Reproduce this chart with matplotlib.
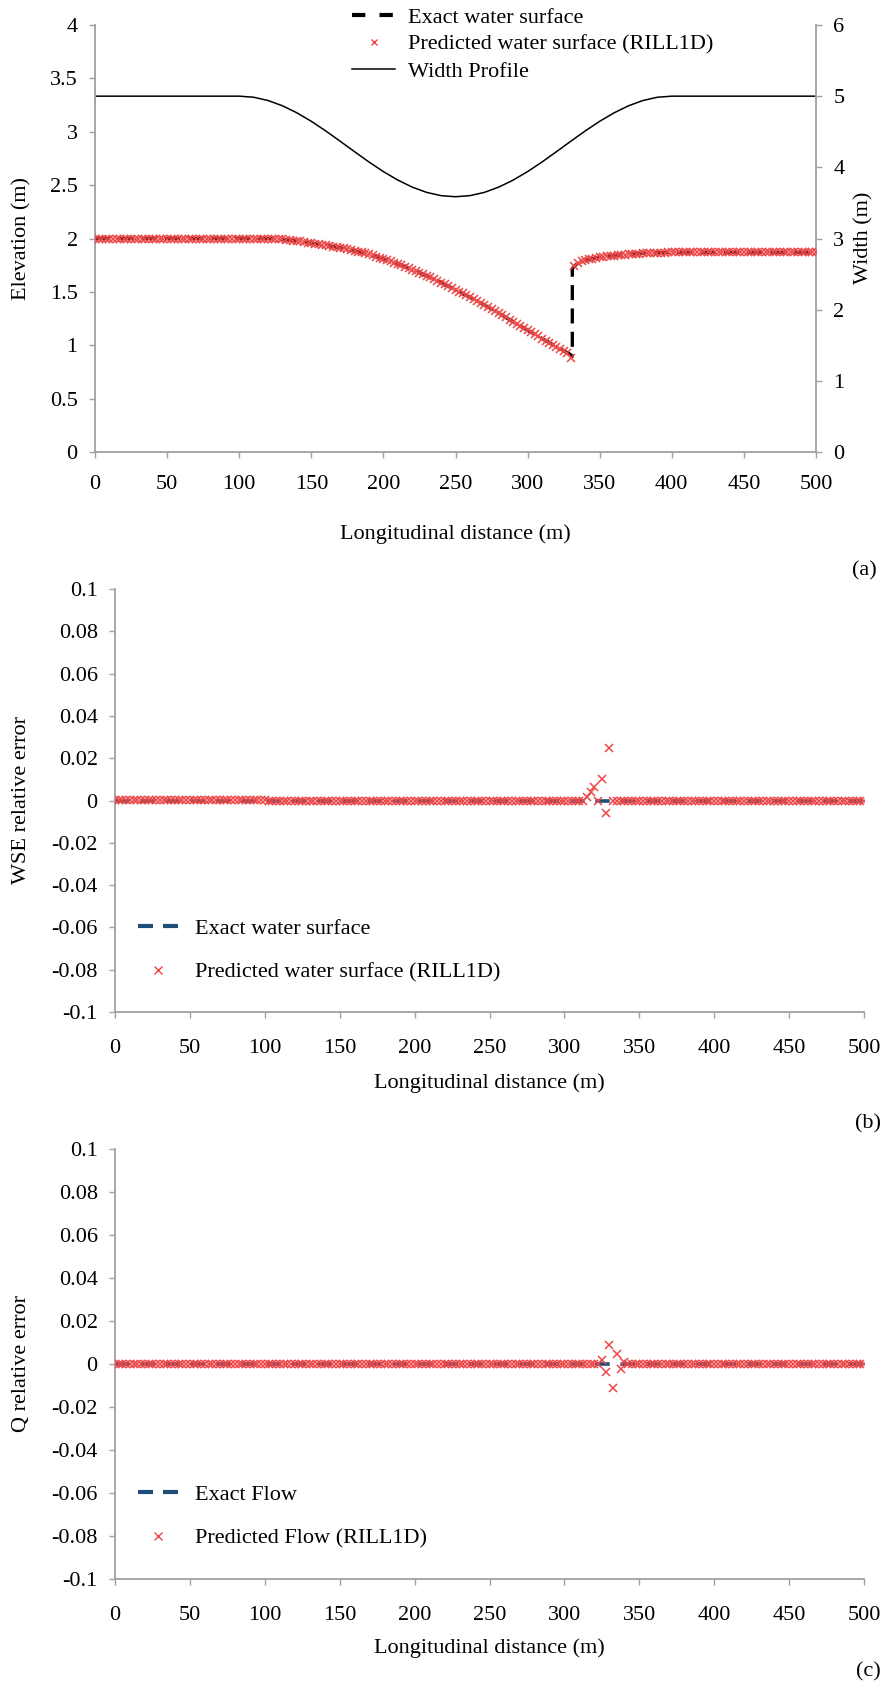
import matplotlib
matplotlib.use("Agg")
import matplotlib.pyplot as plt
from matplotlib.lines import Line2D

plt.rcParams['font.family'] = ['Liberation Serif', 'DejaVu Serif']

# ---------------- data ----------------
x_ticks = [0, 50, 100, 150, 200, 250, 300, 350, 400, 450, 500]
x_tick_labels = [str(v) for v in x_ticks]

# width profile (m) every 10 m
width_x = list(range(0, 510, 10))
width_vals = ([5.0] * 11 +
              [4.985, 4.939, 4.865, 4.766, 4.647, 4.512, 4.367, 4.220, 4.075, 3.940,
               3.821, 3.722, 3.648, 3.602, 3.587, 3.602, 3.648, 3.722, 3.821, 3.940,
               4.075, 4.220, 4.367, 4.512, 4.647, 4.766, 4.865, 4.939, 4.985] +
              [5.0] * 11)

# exact water surface (m)
exact_x = list(range(0, 335, 5)) + [331, 331] + list(range(335, 505, 5))
exact_wse = ([2.0] * 24 +
             [2.000, 1.997, 1.992, 1.985, 1.977, 1.967, 1.957, 1.947, 1.937, 1.925,
              1.913, 1.900, 1.885, 1.869, 1.851, 1.831, 1.810, 1.787, 1.762, 1.736,
              1.709, 1.680, 1.650, 1.619, 1.587, 1.554, 1.520, 1.485, 1.449, 1.413,
              1.377, 1.340, 1.300, 1.260, 1.220, 1.180, 1.140, 1.101, 1.063, 1.025,
              0.987, 0.950, 0.910] +
             [0.895, 1.720] +
             [1.775, 1.797, 1.812, 1.823, 1.832, 1.840, 1.847, 1.853, 1.857, 1.861,
              1.864, 1.866, 1.868] +
             [1.870] * 21)

# predicted (RILL1D) water surface, every 2.5 m
pred_x = [i * 2.5 for i in range(201)]
pred_wse = ([2.0] * 48 +
            [2.000, 1.999, 1.997, 1.995, 1.992, 1.989, 1.985, 1.981, 1.977, 1.972,
             1.967, 1.962, 1.957, 1.952, 1.947, 1.942, 1.937, 1.931, 1.925, 1.919,
             1.913, 1.907, 1.900, 1.893, 1.885, 1.877, 1.869, 1.860, 1.851, 1.841,
             1.831, 1.821, 1.810, 1.799, 1.787, 1.775, 1.762, 1.749, 1.736, 1.723,
             1.709, 1.695, 1.680, 1.665, 1.650, 1.635, 1.619, 1.603, 1.587, 1.571,
             1.554, 1.537, 1.520, 1.503, 1.485, 1.467, 1.449, 1.431, 1.413, 1.395,
             1.377, 1.359, 1.340, 1.320, 1.300, 1.280, 1.260, 1.240, 1.220, 1.200,
             1.180, 1.160, 1.140, 1.120, 1.101, 1.082, 1.063, 1.044, 1.025, 1.006,
             0.987, 0.968, 0.950, 0.930, 0.880] +
            [1.745, 1.775, 1.787, 1.797, 1.805, 1.812, 1.818, 1.823, 1.828, 1.832,
             1.836, 1.840, 1.844, 1.847, 1.850, 1.853, 1.855, 1.857, 1.859, 1.861,
             1.863, 1.864, 1.865, 1.866, 1.867, 1.868, 1.869] +
            [1.870] * 41)

# relative errors
exact_err_x = [0, 500]
exact_err = [0.0, 0.0]
wse_err = ([0.0004] * 41 + [-0.0002] * 85 +
           [0.0015, 0.004, 0.0065, 0.0, 0.010, -0.006, 0.025] +
           [-0.0002] * 68)
q_err = ([0.0] * 130 +
         [0.002, -0.0038, 0.0088, -0.0113, 0.0047, -0.0023, 0.0008] +
         [0.0] * 64)

elev_ticks = [0, 0.5, 1, 1.5, 2, 2.5, 3, 3.5, 4]
elev_labels = ['0', '0.5', '1', '1.5', '2', '2.5', '3', '3.5', '4']
width_ticks = [0, 1, 2, 3, 4, 5, 6]
err_ticks = [-0.1, -0.08, -0.06, -0.04, -0.02, 0, 0.02, 0.04, 0.06, 0.08, 0.1]
err_labels = ['-0.1', '-0.08', '-0.06', '-0.04', '-0.02', '0', '0.02', '0.04', '0.06', '0.08', '0.1']

# ---------------- style ----------------
W, H = 883, 1684
RED = '#EC4646'
NAVY = '#1F4E79'
GRAY = '#A0A0A0'
FS = 16

fig = plt.figure(figsize=(W / 100, H / 100), dpi=100)


def rect(l, r, t, b):
    return [l / W, 1 - b / H, (r - l) / W, (b - t) / H]


def style(ax, right=False, xpad=12):
    ax.spines['top'].set_visible(False)
    ax.spines['right'].set_visible(right)
    for s in ['left', 'bottom', 'right']:
        ax.spines[s].set_color(GRAY)
        ax.spines[s].set_linewidth(1.3)
    ax.tick_params(axis='both', direction='out', length=4.5, width=1.0,
                   color=GRAY, labelcolor='black', labelsize=FS)
    ax.tick_params(axis='x', pad=xpad)
    ax.tick_params(axis='y', pad=8)


def ftext(x, y, s, **kw):
    fig.text(x / W, 1 - y / H, s, fontsize=FS, ha='center', va='center',
             family='Liberation Serif', **kw)


# ---------------- panel (a) ----------------
ax1 = fig.add_axes(rect(95, 816, 25, 452))
ax1.set_xlim(0, 500)
ax1.set_ylim(0, 4)
ax2 = ax1.twinx()
ax2.set_ylim(0, 6)
style(ax1)
style(ax2, right=True)
ax2.spines['left'].set_visible(False)
ax2.spines['bottom'].set_visible(False)
ax1.set_xticks(x_ticks)
ax1.set_xticklabels(x_tick_labels)
ax1.set_yticks(elev_ticks)
ax1.set_yticklabels(elev_labels)
ax2.set_yticks(width_ticks)
ax2.set_yticklabels([str(v) for v in width_ticks])

ax1.plot(exact_x, exact_wse, color='black', lw=2.4, dashes=(4.5, 2.5), zorder=2)
ax1.plot(pred_x, pred_wse, ls='none', marker='x', ms=5.2, mew=1.1, color=RED, zorder=3)
ax2.plot(width_x, width_vals, color='black', lw=1.1)
ax1.set_zorder(ax2.get_zorder() + 1)
ax1.patch.set_visible(False)

leg_a = [Line2D([], [], color='black', lw=3, dashes=(3.2, 3.4)),
         Line2D([], [], ls='none', marker='x', ms=4, mew=1.0, color=RED),
         Line2D([], [], color='black', lw=1.1)]
fig.legend(leg_a, ['Exact water surface', 'Predicted water surface (RILL1D)', 'Width Profile'],
           loc='upper left', bbox_to_anchor=(352 / W, 1 - 7 / H), frameon=False,
           fontsize=FS, handlelength=1.95, handletextpad=0.55, labelspacing=0.3,
           borderpad=0, borderaxespad=0)

ftext(22, 238, 'Elevation (m)', rotation=90)
ftext(864, 238, 'Width (m)', rotation=90)
ftext(455, 534, 'Longitudinal distance (m)')
ftext(864, 571, '(a)')

# ---------------- panels (b) and (c) ----------------
def err_panel(top, bottom, yerr, ylabel, lab_exact, lab_pred, xlab_y, tag, tag_y):
    ax = fig.add_axes(rect(115, 864, top, bottom))
    ax.set_xlim(0, 500)
    ax.set_ylim(-0.1, 0.1)
    style(ax, xpad=15)
    ax.set_xticks(x_ticks)
    ax.set_xticklabels(x_tick_labels)
    ax.set_yticks(err_ticks)
    ax.set_yticklabels(err_labels)
    ax.plot(exact_err_x, exact_err, color=NAVY, lw=2.6, dashes=(4, 3), zorder=2)
    ax.plot(pred_x, yerr, ls='none', marker='x', ms=5.5, mew=1.1, color=RED, zorder=3)
    hl = [Line2D([], [], color=NAVY, lw=3, dashes=(3.6, 2.4)),
          Line2D([], [], ls='none', marker='x', ms=5.5, mew=1.0, color=RED)]
    ax.legend(hl, [lab_exact, lab_pred], loc='upper left',
              bbox_to_anchor=(138 / W, 1 - (top + (bottom - top) * 0.779) / H),
              bbox_transform=fig.transFigure, frameon=False, fontsize=FS,
              handlelength=1.8, handletextpad=0.75, labelspacing=1.05,
              borderpad=0, borderaxespad=0)
    ftext(22, (top + bottom) / 2, ylabel, rotation=90)
    ftext(489, xlab_y, 'Longitudinal distance (m)')
    ftext(868, tag_y, tag)
    return ax


err_panel(589, 1012, wse_err, 'WSE relative error', 'Exact water surface',
          'Predicted water surface (RILL1D)', 1083, '(b)', 1124)
err_panel(1149, 1579, q_err, 'Q relative error', 'Exact Flow',
          'Predicted Flow (RILL1D)', 1648, '(c)', 1672)

fig.savefig('out.png', dpi=100, facecolor='white')
